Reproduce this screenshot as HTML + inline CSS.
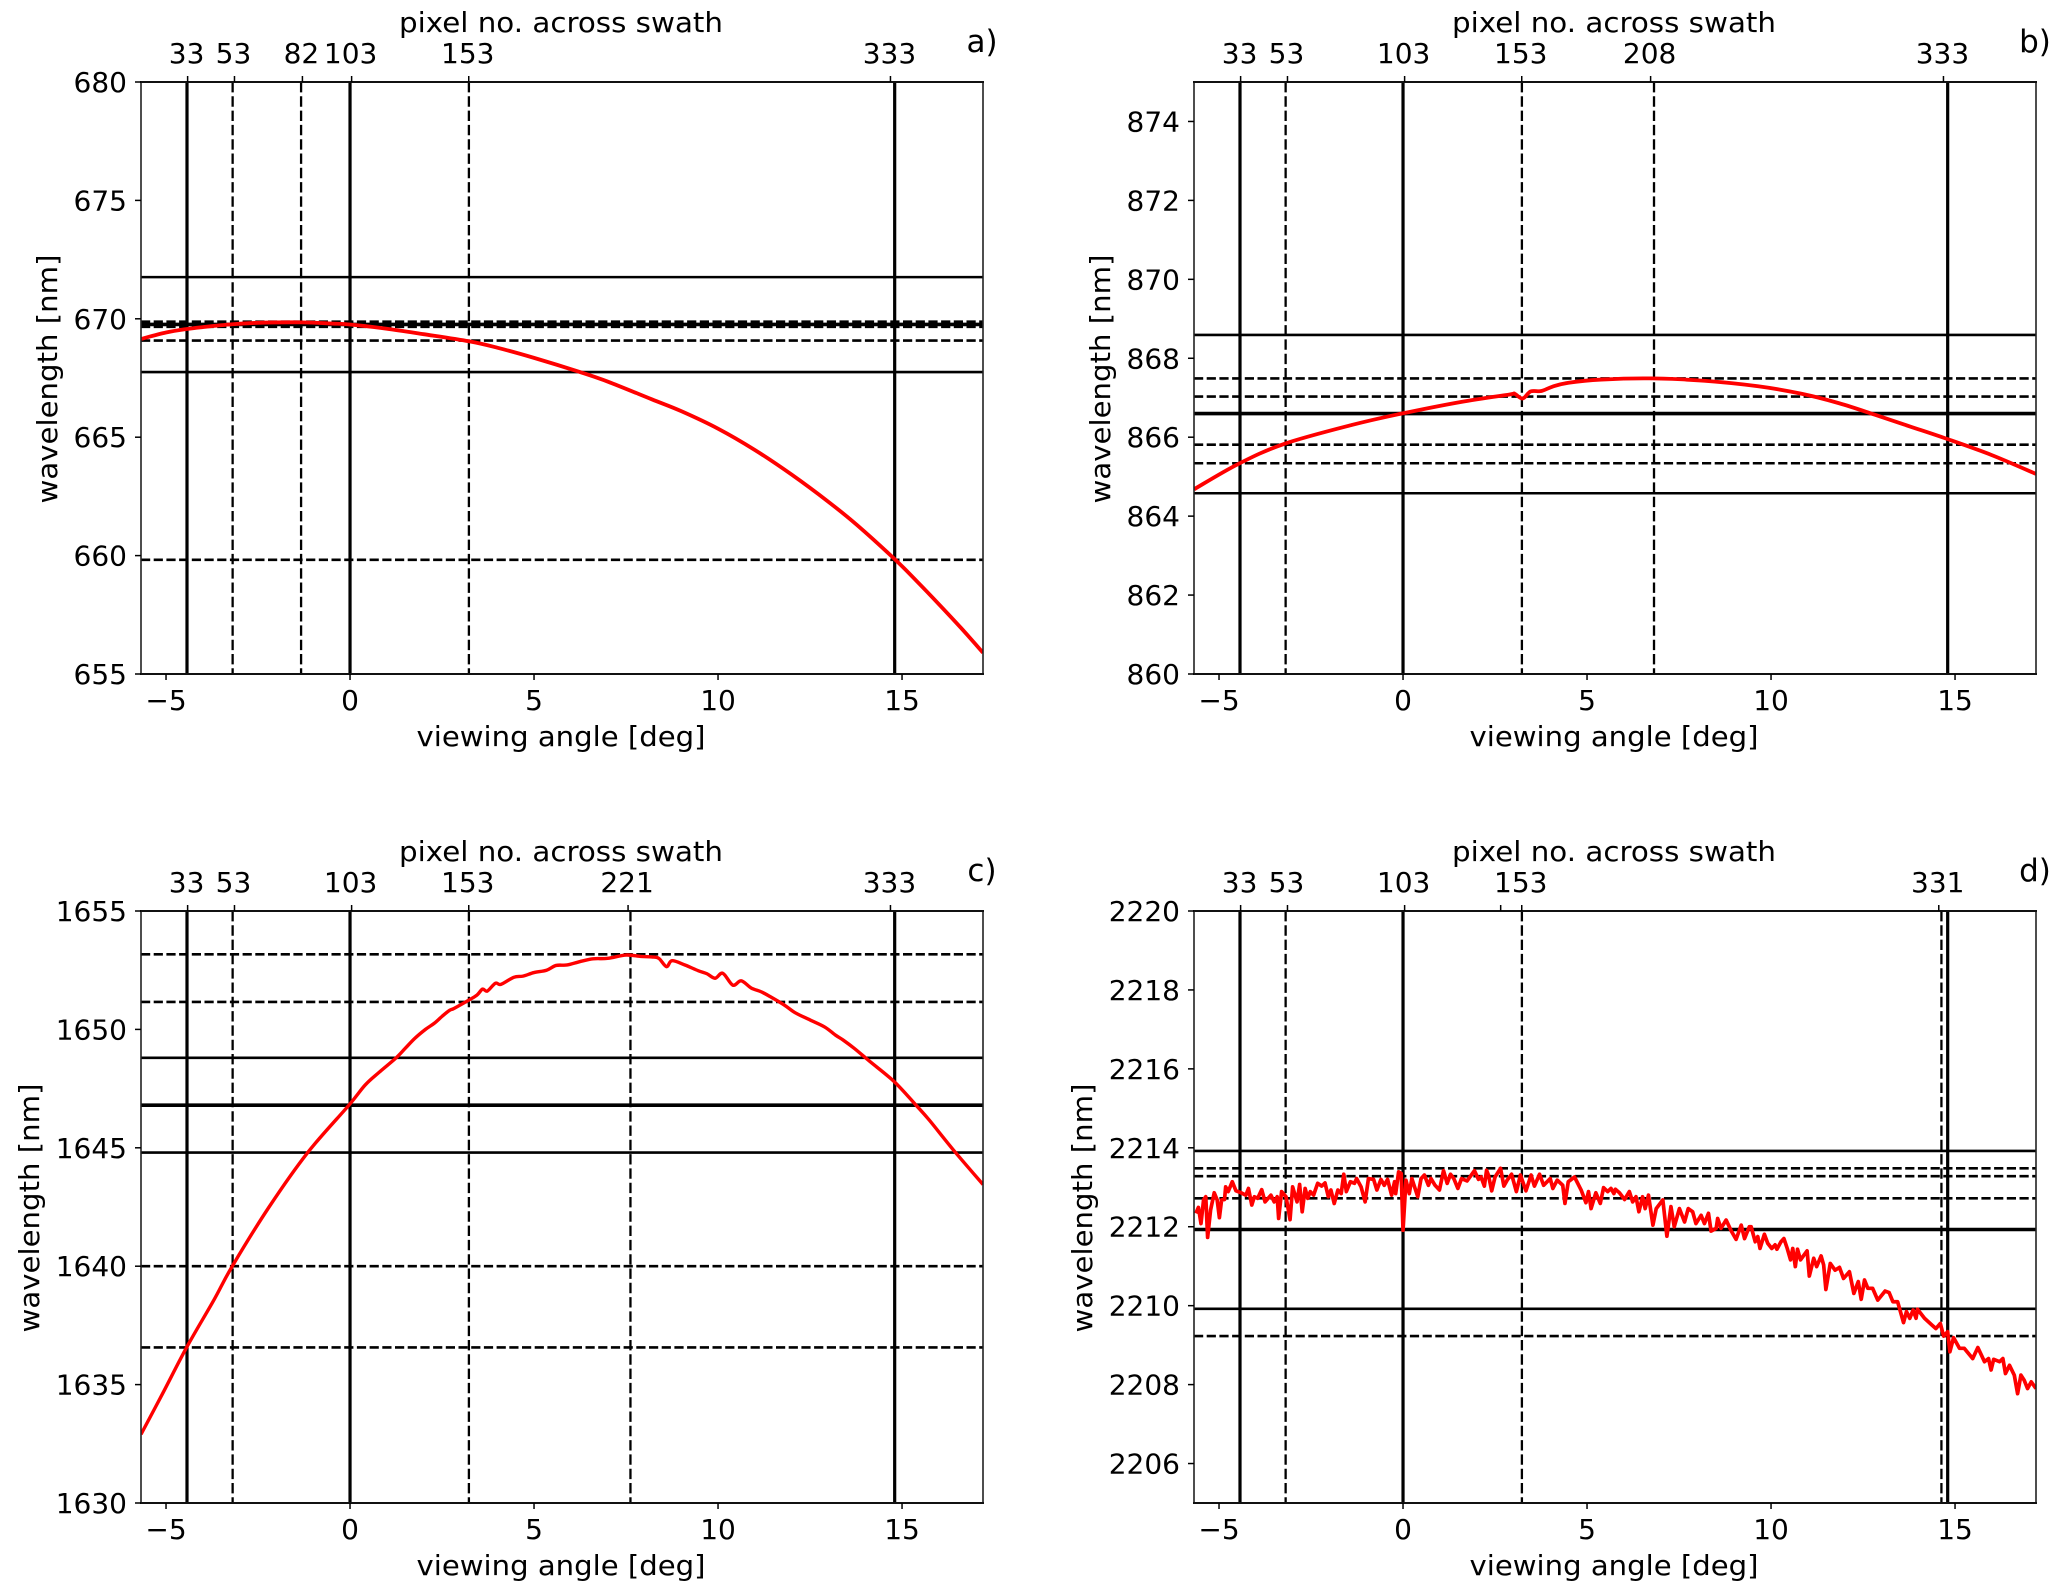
<!DOCTYPE html>
<html lang="en">
<head>
<meta charset="utf-8">
<title>Wavelength vs viewing angle</title>
<style>
html,body{margin:0;padding:0;background:#fff;}
svg{display:block;}
text{font-family:"DejaVu Sans","Liberation Sans",sans-serif;fill:#000;}
</style>
</head>
<body>
<svg id="figure" xmlns="http://www.w3.org/2000/svg" width="2067" height="1593" viewBox="0 0 2067 1593"></svg>
<script>
// ---- shared axis data ----
const angleTicks = [-5, 0, 5, 10, 15];
const angleRange = [-5.68, 17.2];
const pixelRange = [13.1, 372.5];

// ---- panel a ----
const aYRange = [655, 680];
const aYTicks = [655, 660, 665, 670, 675, 680];
const aPixelTicks = [33, 53, 82, 103, 153, 333];
const aPixelLabels = ['33', '53', '82', '103', '153', '333'];
const aSolidV = [-4.43, 0, 14.8];
const aDashedV = [-3.19, -1.33, 3.23];
const aSolidH = [671.76, 667.75];
const aThickH = [669.76];
const aDashedH = [669.88, 669.66, 669.08, 659.82];
const aAngles = [-5.68,-5,-4.43,-4,-3.2,-2.5,-1.33,-0.5,0,1,2,3.23,4,5,6.25,7,8.2,9,10,11,12,13,13.77,14.8,15.4,16,16.6,17.2];
const aWavelengths = [669.15,669.42,669.57,669.65,669.77,669.83,669.85,669.8,669.76,669.58,669.35,669.05,668.78,668.35,667.75,667.35,666.6,666.1,665.36,664.46,663.42,662.27,661.3,659.85,658.92,657.95,656.95,655.9];

// ---- panel b ----
const bYRange = [860, 875];
const bYTicks = [860, 862, 864, 866, 868, 870, 872, 874];
const bPixelTicks = [33, 53, 103, 153, 208, 333];
const bPixelLabels = ['33', '53', '103', '153', '208', '333'];
const bSolidV = [-4.43, 0, 14.8];
const bDashedV = [-3.19, 3.23, 6.82];
const bSolidH = [868.59, 864.58];
const bThickH = [866.6];
const bDashedH = [867.49, 867.03, 865.81, 865.34];
const bAngles = [-5.68,-4.48,-3.23,-1.39,-0.08,1.55,2.88,3.03,3.25,3.47,3.76,4.06,4.5,5.39,6.71,8.18,9.65,10.83,11.85,12.82,13.78,14.74,15.99,17.2];
const bWavelengths = [864.68,865.32,865.83,866.31,866.59,866.89,867.08,867.1,866.98,867.16,867.17,867.28,867.38,867.46,867.49,867.43,867.29,867.1,866.86,866.57,866.27,865.97,865.55,865.07];

// ---- panel c ----
const cYRange = [1630, 1655];
const cYTicks = [1630, 1635, 1640, 1645, 1650, 1655];
const cPixelTicks = [33, 53, 103, 153, 221, 333];
const cPixelLabels = ['33', '53', '103', '153', '221', '333'];
const cSolidV = [-4.43, 0, 14.8];
const cDashedV = [-3.19, 3.23, 7.62];
const cSolidH = [1648.8, 1644.8];
const cThickH = [1646.8];
const cDashedH = [1653.17, 1651.16, 1640, 1636.57];
const cAngles = [-5.68,-5.1,-4.43,-3.7,-3.2,-2.2,-1.15,-0.03,0.41,0.8,1.24,1.5,1.76,2.05,2.29,2.5,2.7,2.83,3.23,3.45,3.6,3.73,3.95,4.1,4.45,4.7,5,5.34,5.6,5.9,6.24,6.6,7,7.5,7.9,8.2,8.39,8.6,8.75,9.1,9.46,9.7,9.92,10.13,10.4,10.63,10.9,11.17,11.4,11.8,12.1,12.5,12.9,13.2,13.4,13.7,14.13,14.79,15.38,15.74,16.4,17.2];
const cWavelengths = [1632.9,1634.6,1636.6,1638.57,1640,1642.5,1644.8,1646.8,1647.65,1648.2,1648.78,1649.2,1649.62,1650,1650.26,1650.55,1650.8,1650.89,1651.24,1651.45,1651.7,1651.62,1651.95,1651.9,1652.2,1652.25,1652.4,1652.5,1652.7,1652.72,1652.86,1652.98,1653,1653.14,1653.08,1653.06,1653,1652.65,1652.9,1652.72,1652.48,1652.35,1652.16,1652.37,1651.87,1652.05,1651.75,1651.59,1651.4,1651.03,1650.7,1650.4,1650.1,1649.75,1649.55,1649.2,1648.64,1647.79,1646.8,1646.17,1644.9,1643.45];

// ---- panel d ----
const dYRange = [2205, 2220];
const dYTicks = [2206, 2208, 2210, 2212, 2214, 2216, 2218, 2220];
const dPixelTicks = [33, 53, 103, 144, 153, 331];
const dPixelLabels = ['33', '53', '103', '', '153', '331'];
const dSolidV = [-4.43, 0, 14.8];
const dDashedV = [-3.19, 3.23, 14.63];
const dSolidH = [2213.92, 2209.92];
const dThickH = [2211.93];
const dDashedH = [2213.48, 2213.28, 2212.72, 2209.23];
const dAngles = [-5.63,-5.56,-5.49,-5.42,-5.36,-5.31,-5.23,-5.13,-5.05,-4.99,-4.93,-4.85,-4.82,-4.75,-4.64,-4.54,-4.4,-4.27,-4.2,-4.11,-4.04,-3.95,-3.84,-3.75,-3.59,-3.5,-3.42,-3.38,-3.3,-3.18,-3.07,-3,-2.88,-2.81,-2.74,-2.66,-2.59,-2.52,-2.43,-2.32,-2.21,-2.12,-2.03,-1.96,-1.87,-1.77,-1.68,-1.61,-1.54,-1.43,-1.32,-1.26,-1.14,-1.03,-0.94,-0.8,-0.71,-0.6,-0.51,-0.42,-0.31,-0.23,-0.2,-0.12,-0.05,0,0.08,0.17,0.24,0.4,0.49,0.58,0.69,0.76,0.87,0.99,1.1,1.2,1.29,1.38,1.49,1.59,1.74,1.94,2.05,2.12,2.21,2.27,2.32,2.41,2.5,2.65,2.74,2.83,2.95,3.08,3.19,3.34,3.48,3.57,3.71,3.82,4,4.07,4.19,4.34,4.4,4.49,4.66,4.84,4.97,5.04,5.11,5.24,5.36,5.45,5.56,5.65,5.73,5.77,5.88,6.02,6.15,6.24,6.33,6.41,6.51,6.58,6.67,6.79,6.88,7.06,7.17,7.28,7.37,7.51,7.65,7.75,7.87,7.96,8.1,8.19,8.3,8.37,8.51,8.55,8.64,8.78,8.91,9.05,9.19,9.28,9.41,9.46,9.57,9.64,9.7,9.82,9.91,10.02,10.11,10.16,10.27,10.35,10.44,10.53,10.59,10.66,10.72,10.8,10.98,11.04,11.16,11.24,11.36,11.43,11.49,11.61,11.74,11.86,11.97,12.13,12.25,12.37,12.45,12.54,12.63,12.76,12.9,13.1,13.21,13.31,13.44,13.6,13.68,13.77,13.86,13.94,13.98,14.17,14.37,14.48,14.6,14.69,14.8,14.86,14.96,15.12,15.25,15.48,15.62,15.8,15.91,15.98,16.05,16.21,16.3,16.37,16.48,16.61,16.7,16.79,16.88,16.97,17.07,17.2];
const dWavelengths = [2212.34,2212.49,2212.08,2212.68,2212.76,2211.73,2212.42,2212.86,2212.68,2212.23,2212.68,2212.69,2213.01,2212.89,2213.14,2212.91,2212.86,2212.8,2212.97,2212.55,2212.76,2212.72,2212.94,2212.63,2212.8,2212.63,2212.76,2212.21,2212.89,2212.76,2212.18,2213.01,2212.63,2213.07,2212.38,2212.97,2212.72,2212.89,2212.8,2213.1,2213.03,2213.11,2212.76,2212.93,2212.59,2212.93,2212.84,2213.33,2212.89,2213.14,2213.1,2213.22,2213.01,2212.63,2213.22,2213.2,2212.93,2213.2,2213.05,2213.2,2212.8,2213.14,2212.84,2213.39,2213.35,2211.91,2213.18,2212.84,2213.22,2212.76,2213.22,2213.31,2213.05,2213.22,2213.05,2212.93,2213.42,2213.1,2213.33,2213.22,2212.97,2213.22,2213.16,2213.42,2213.2,2213.26,2213.03,2213.43,2213.31,2212.91,2213.26,2213.48,2213.03,2213.18,2213.33,2212.89,2213.31,2212.91,2213.31,2213.03,2213.33,2213.05,2213.22,2212.97,2213.18,2213.05,2212.59,2213.14,2213.26,2212.93,2212.61,2212.89,2212.46,2212.86,2212.59,2212.99,2212.89,2212.97,2212.84,2212.95,2212.86,2212.69,2212.89,2212.63,2212.76,2212.38,2212.76,2212.46,2212.8,2212.04,2212.46,2212.68,2211.76,2212.51,2212,2212.46,2212.12,2212.46,2212.38,2212.08,2212.29,2212.08,2212.34,2211.89,2211.96,2212.21,2211.96,2212.17,2211.91,2211.68,2212.04,2211.7,2212,2212,2211.62,2211.75,2211.45,2211.81,2211.58,2211.45,2211.54,2211.43,2211.62,2211.7,2211.45,2211.16,2211.45,2210.99,2211.43,2211.16,2211.39,2210.75,2211.2,2210.99,2211.26,2211.03,2210.41,2211.07,2210.9,2210.97,2210.69,2210.86,2210.31,2210.61,2210.16,2210.65,2210.44,2210.44,2210.14,2210.37,2210.33,2210.1,2210.1,2209.57,2209.85,2209.68,2209.89,2209.68,2209.91,2209.68,2209.51,2209.42,2209.55,2209.23,2209.34,2208.83,2209.19,2208.92,2208.92,2208.66,2208.94,2208.58,2208.66,2208.37,2208.64,2208.58,2208.66,2208.28,2208.49,2208.24,2207.77,2208.24,2208.11,2207.9,2208.07,2207.9];

// ---- rendering ----
const NS = 'http://www.w3.org/2000/svg';
const root = document.getElementById('figure');
const TICK_FONT = 28;

function svgEl(tag, parent, name) {
  const el = document.createElementNS(NS, tag);
  
  
  parent.appendChild(el);
  return el;
}
function line(parent, name, x1, y1, x2, y2, width, color, dash) {
  const l = svgEl('line', parent, name);
  l.setAttribute('x1', x1);
  l.setAttribute('y1', y1);
  l.setAttribute('x2', x2);
  l.setAttribute('y2', y2);
  l.setAttribute('stroke', color);
  l.setAttribute('stroke-width', width);
  if (dash) l.setAttribute('stroke-dasharray', dash);
  return l;
}
function label(parent, name, str, x, y, anchor, size, len) {
  const t = svgEl('text', parent, name);
  t.setAttribute('x', x);
  t.setAttribute('y', y);
  t.setAttribute('text-anchor', anchor);
  t.setAttribute('font-size', size);
  if (len) {
    t.setAttribute('textLength', len);
    t.setAttribute('lengthAdjust', 'spacingAndGlyphs');
  }
  t.textContent = str;
  return t;
}
function curvePath(pts, smooth) {
  let d = 'M' + pts[0][0].toFixed(2) + ' ' + pts[0][1].toFixed(2);
  for (let i = 0; i < pts.length - 1; i++) {
    const p0 = pts[Math.max(0, i - 1)], p1 = pts[i], p2 = pts[i + 1], p3 = pts[Math.min(pts.length - 1, i + 2)];
    if (smooth) {
      const c1x = p1[0] + (p2[0] - p0[0]) / 6, c1y = p1[1] + (p2[1] - p0[1]) / 6;
      const c2x = p2[0] - (p3[0] - p1[0]) / 6, c2y = p2[1] - (p3[1] - p1[1]) / 6;
      d += 'C' + c1x.toFixed(2) + ' ' + c1y.toFixed(2) + ' ' + c2x.toFixed(2) + ' ' + c2y.toFixed(2) + ' ' + p2[0].toFixed(2) + ' ' + p2[1].toFixed(2);
    } else {
      d += 'L' + p2[0].toFixed(2) + ' ' + p2[1].toFixed(2);
    }
  }
  return d;
}

function drawPanel(p) {
  const g = svgEl('g', root, 'panel-' + p.id);
  const W = p.right - p.left, H = p.bottom - p.top;
  const xs = v => p.left + (v - angleRange[0]) / (angleRange[1] - angleRange[0]) * W;
  const ys = v => p.bottom - (v - p.yRange[0]) / (p.yRange[1] - p.yRange[0]) * H;
  const ps = v => p.left + (v - pixelRange[0]) / (pixelRange[1] - pixelRange[0]) * W;

  const clipId = 'clip-' + p.id;
  const defs = svgEl('defs', g, 'plot-clip-defs');
  const clip = svgEl('clipPath', defs, 'plot-clip');
  clip.setAttribute('id', clipId);
  const clipRect = svgEl('rect', clip, 'plot-clip-rect');
  clipRect.setAttribute('x', p.left);
  clipRect.setAttribute('y', p.top);
  clipRect.setAttribute('width', W);
  clipRect.setAttribute('height', H);

  const plot = svgEl('g', g, 'plot-area');
  plot.setAttribute('clip-path', 'url(#' + clipId + ')');

  p.solidH.forEach(v => line(plot, 'horizontal-line-solid', p.left, ys(v), p.right, ys(v), 2.6, '#000'));
  p.thickH.forEach(v => line(plot, 'horizontal-line-center', p.left, ys(v), p.right, ys(v), 3.6, '#000'));
  p.dashedH.forEach(v => line(plot, 'horizontal-line-dashed', p.left, ys(v), p.right, ys(v), 2.6, '#000', '9.2 3.5'));
  p.solidV.forEach(v => line(plot, 'vertical-line-solid', xs(v), p.top, xs(v), p.bottom, 3.2, '#000'));
  p.dashedV.forEach(v => line(plot, 'vertical-line-dashed', xs(v), p.top, xs(v), p.bottom, 2.3, '#000', '10.4 3.9'));

  const curve = svgEl('path', plot, 'wavelength-curve');
  const pts = p.angles.map((a, i) => [xs(a), ys(p.wavelengths[i])]);
  curve.setAttribute('d', curvePath(pts, p.smooth));
  curve.setAttribute('fill', 'none');
  curve.setAttribute('stroke', '#ff0000');
  curve.setAttribute('stroke-width', p.curveWidth);
  curve.setAttribute('stroke-linejoin', 'round');

  // frame
  line(g, 'frame-left', p.left, p.top, p.left, p.bottom, 1.6, '#222');
  line(g, 'frame-right', p.right, p.top, p.right, p.bottom, 1.6, '#222');
  line(g, 'frame-top', p.left - 1, p.top, p.right + 1, p.top, 2, '#111');
  line(g, 'frame-bottom', p.left - 1, p.bottom, p.right + 1, p.bottom, 2, '#111');

  // x axis
  angleTicks.forEach(v => {
    line(g, 'x-tick', xs(v), p.bottom, xs(v), p.bottom + 6, 1.5, '#000');
    label(g, 'x-tick-label', v < 0 ? '\u2212' + Math.abs(v) : String(v), xs(v), p.bottom + 36, 'middle', TICK_FONT);
  });
  label(g, 'x-axis-title', 'viewing angle [deg]', p.left + W / 2 - 1, p.bottom + 72, 'middle', TICK_FONT, 289);

  // y axis
  p.yTicks.forEach(v => {
    line(g, 'y-tick', p.left - 6, ys(v), p.left, ys(v), 1.5, '#000');
    label(g, 'y-tick-label', String(v), p.left - 14, ys(v) + 10, 'end', TICK_FONT);
  });
  const yTitle = label(g, 'y-axis-title', 'wavelength [nm]', 0, 0, 'middle', TICK_FONT, 249);
  yTitle.setAttribute('transform', 'translate(' + p.yTitleX + ',' + (p.top + H / 2 + 1) + ') rotate(-90)');

  // top axis
  p.pixelTicks.forEach((v, i) => {
    line(g, 'top-tick', ps(v), p.top - 6, ps(v), p.top, 1.5, '#000');
    if (p.pixelLabels[i]) label(g, 'top-tick-label', p.pixelLabels[i], ps(v) - 1, p.top - 19, 'middle', TICK_FONT);
  });
  label(g, 'top-axis-title', 'pixel no. across swath', p.left + W / 2 - 1, p.top - 50, 'middle', TICK_FONT, 324);

  label(g, 'panel-letter', p.id + ')', p.right - 1, p.top - 30, 'middle', 31);
}

drawPanel({id:'a', left:141, right:983, top:82, bottom:674, yTitleX:57, smooth:true, yRange:aYRange, yTicks:aYTicks, pixelTicks:aPixelTicks, pixelLabels:aPixelLabels, solidV:aSolidV, dashedV:aDashedV, solidH:aSolidH, thickH:aThickH, dashedH:aDashedH, angles:aAngles, wavelengths:aWavelengths, curveWidth:3.8});
drawPanel({id:'b', left:1194, right:2036, top:82, bottom:674, yTitleX:1110, smooth:true, yRange:bYRange, yTicks:bYTicks, pixelTicks:bPixelTicks, pixelLabels:bPixelLabels, solidV:bSolidV, dashedV:bDashedV, solidH:bSolidH, thickH:bThickH, dashedH:bDashedH, angles:bAngles, wavelengths:bWavelengths, curveWidth:3.8});
drawPanel({id:'c', left:141, right:983, top:911, bottom:1503, yTitleX:39, smooth:true, yRange:cYRange, yTicks:cYTicks, pixelTicks:cPixelTicks, pixelLabels:cPixelLabels, solidV:cSolidV, dashedV:cDashedV, solidH:cSolidH, thickH:cThickH, dashedH:cDashedH, angles:cAngles, wavelengths:cWavelengths, curveWidth:3.4});
drawPanel({id:'d', left:1194, right:2036, top:911, bottom:1503, yTitleX:1092, smooth:false, yRange:dYRange, yTicks:dYTicks, pixelTicks:dPixelTicks, pixelLabels:dPixelLabels, solidV:dSolidV, dashedV:dDashedV, solidH:dSolidH, thickH:dThickH, dashedH:dDashedH, angles:dAngles, wavelengths:dWavelengths, curveWidth:3.7});
</script>
</body>
</html>
